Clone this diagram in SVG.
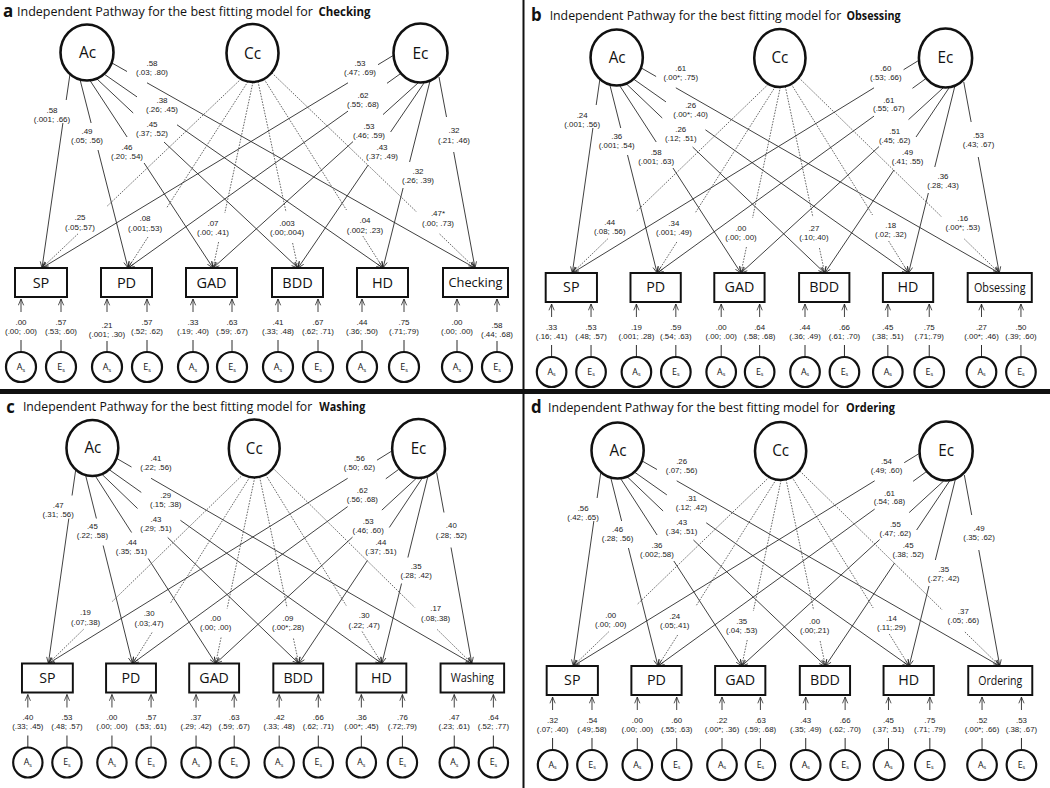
<svg xmlns="http://www.w3.org/2000/svg" width="1050" height="788" viewBox="0 0 1050 788">
<defs>
<marker id="ah" viewBox="0 0 10 10" refX="9.5" refY="5" markerWidth="7" markerHeight="7" markerUnits="userSpaceOnUse" orient="auto"><path d="M0.5,1.2L9.5,5L0.5,8.8" fill="none" stroke="#222" stroke-width="1.1"/></marker>
<style>
.ln{fill:none;stroke:#2a2a2a;stroke-width:0.9;marker-end:url(#ah)}
.dt{stroke:#555;stroke-dasharray:1.6 1.3}
.ra{fill:none;stroke:#2a2a2a;stroke-width:0.9;marker-end:url(#ah)}
.stm{fill:none;stroke:#2a2a2a;stroke-width:1}
.lat{fill:#fff;stroke:#111;stroke-width:2.6}
.box{fill:#fff;stroke:#111;stroke-width:2}
.res{fill:#fff;stroke:#111;stroke-width:2.2}
.lb{font-family:"Liberation Sans",Arial,sans-serif;font-size:8px;fill:#222;text-anchor:middle}
.nt{font-family:"Open Sans","Liberation Sans",sans-serif;fill:#111;text-anchor:middle}
.lt{font-size:15.5px}
.bt{font-size:14.5px}
.ot{font-size:12.5px}
.sl{font-size:9px}
.sb{font-size:5.5px}
.ttl{font-family:"Open Sans","Liberation Sans",sans-serif;font-size:12.5px;fill:#111}
.pl{font-family:"Open Sans","Liberation Sans",sans-serif;font-size:17px;font-weight:700;fill:#111}
.b{font-weight:700}
</style>
</defs>
<rect x="0" y="0" width="1050" height="788" fill="#fff"/>

<!-- ===================== PANEL A ===================== -->
<g id="panel-a">
<text class="pl" x="3" y="17">a</text>
<text class="ttl" x="17" y="16">Independent Pathway for the best fitting model for</text>
<text class="ttl b" x="318.5" y="16" textLength="52" lengthAdjust="spacingAndGlyphs">Checking</text>
<g id="a-connectors">
<path class="ln" d="M70,74L66.2,100M62.9,123L42,268"/>
<path class="ln" d="M80,79.5L91.1,123M98,150L128,268"/>
<path class="ln" d="M90,80.5L127.1,137M144.1,163L213,268"/>
<path class="ln" d="M97,79L133.2,113M164,142L298,268"/>
<path class="ln" d="M104,74L137,96.9M177,124.8L383,268"/>
<path class="ln" d="M112,63L127,71.5M147,82.8L475,268"/>
<path class="ln dt" d="M241,79L107,206.3M78,233.8L42,268"/>
<path class="ln dt" d="M248,81.5L166.6,208M148,237L128,268"/>
<path class="ln dt" d="M253,82L224.8,213M218.6,242L213,268"/>
<path class="ln dt" d="M258,81.5L286,212M292.6,243L298,268"/>
<path class="ln dt" d="M264,79L346.5,210M362.8,236L383,268"/>
<path class="ln dt" d="M272,73L416.7,212M439.6,234L475,268"/>
<path class="ln" d="M394,55L378,64.7M348,82.8L42,268"/>
<path class="ln" d="M400,74L387,83.3M348,111.1L128,268"/>
<path class="ln" d="M418,83L383,114.6M353,141.6L213,268"/>
<path class="ln" d="M424,83L390.6,132M368.2,165L298,268"/>
<path class="ln" d="M430,81L409.6,162M403.1,188L383,268"/>
<path class="ln" d="M439,77L446.5,117M453.7,152L475,268"/>
<path class="ra" d="M21,312V299"/><path class="ra" d="M61,312V299"/>
<path class="ra" d="M107,312V299"/><path class="ra" d="M147,312V299"/>
<path class="ra" d="M193,312V299"/><path class="ra" d="M232,312V299"/>
<path class="ra" d="M278,312V299"/><path class="ra" d="M318,312V299"/>
<path class="ra" d="M362,312V299"/><path class="ra" d="M404,312V299"/>
<path class="ra" d="M457,312V299"/><path class="ra" d="M497,312V299"/>
<path class="stm" d="M21,340V352M61,340V352M107,341V352M147,340V352M193,340V352M232,340V352M278,340V352M318,340V352M362,340V352M404,340V352M457,340V352M497,341V352"/>
</g>
<g id="a-labels">
<text class="lb" x="52" y="113">.58<tspan x="52" dy="9">(.001; .66)</tspan></text>
<text class="lb" x="87" y="134">.49<tspan x="87" dy="9">(.05; .56)</tspan></text>
<text class="lb" x="127" y="150">.46<tspan x="127" dy="9">(.20; .54)</tspan></text>
<text class="lb" x="152" y="127">.45<tspan x="152" dy="9">(.37; .52)</tspan></text>
<text class="lb" x="162" y="103">.38<tspan x="162" dy="9">(.26; .45)</tspan></text>
<text class="lb" x="152" y="66">.58<tspan x="152" dy="9">(.03; .80)</tspan></text>
<text class="lb" x="80" y="220">.25<tspan x="80" dy="9.5">(.05;.57)</tspan></text>
<text class="lb" x="145" y="221">.08<tspan x="145" dy="9.5">(.001;.53)</tspan></text>
<text class="lb" x="213" y="226">.07<tspan x="213" dy="9">(.00; .41)</tspan></text>
<text class="lb" x="287" y="226">.003<tspan x="287" dy="9">(.00;.004)</tspan></text>
<text class="lb" x="365" y="223">.04<tspan x="365" dy="9.5">(.002; .23)</tspan></text>
<text class="lb" x="438" y="216">.47*<tspan x="438" dy="9.5">(.00; .73)</tspan></text>
<text class="lb" x="360" y="66">.53<tspan x="360" dy="9">(.47; .69)</tspan></text>
<text class="lb" x="363" y="98">.62<tspan x="363" dy="8.5">(.55; .68)</tspan></text>
<text class="lb" x="369" y="129">.53<tspan x="369" dy="9">(.46; .59)</tspan></text>
<text class="lb" x="382" y="150">.43<tspan x="382" dy="9">(.37; .49)</tspan></text>
<text class="lb" x="418" y="174">.32<tspan x="418" dy="9">(.26; .39)</tspan></text>
<text class="lb" x="454" y="133">.32<tspan x="454" dy="9.5">(.21; .46)</tspan></text>
<text class="lb" x="21" y="325">.00<tspan x="21" dy="9">(.00; .00)</tspan></text>
<text class="lb" x="61" y="325">.57<tspan x="61" dy="9">(.53; .60)</tspan></text>
<text class="lb" x="107" y="328">.21<tspan x="107" dy="9">(.001; .30)</tspan></text>
<text class="lb" x="147" y="325">.57<tspan x="147" dy="9">(.52; .62)</tspan></text>
<text class="lb" x="193" y="325">.33<tspan x="193" dy="9">(.19; .40)</tspan></text>
<text class="lb" x="232" y="325">.63<tspan x="232" dy="9">(.59; .67)</tspan></text>
<text class="lb" x="278" y="325">.41<tspan x="278" dy="9">(.33; .48)</tspan></text>
<text class="lb" x="318" y="325">.67<tspan x="318" dy="9">(.62; .71)</tspan></text>
<text class="lb" x="362" y="325">.44<tspan x="362" dy="9">(.36; .50)</tspan></text>
<text class="lb" x="404" y="325">.75<tspan x="404" dy="9">(.71;.79)</tspan></text>
<text class="lb" x="457" y="325">.00<tspan x="457" dy="9">(.00; .00)</tspan></text>
<text class="lb" x="497" y="328">.58<tspan x="497" dy="9">(.44; .68)</tspan></text>
</g>
<g id="a-Ac"><ellipse class="lat" cx="87" cy="52.5" rx="26.5" ry="28"/><text class="nt lt" x="87.5" y="58">Ac</text></g>
<g id="a-Cc"><ellipse class="lat" cx="252.5" cy="53" rx="26" ry="29"/><text class="nt lt" x="252.5" y="58.5">Cc</text></g>
<g id="a-Ec"><ellipse class="lat" cx="420.5" cy="53" rx="27" ry="29.5"/><text class="nt lt" x="420.5" y="58.5">Ec</text></g>
<g id="a-SP"><rect class="box" x="15" y="268" width="52" height="29"/><text class="nt bt" x="41" y="287.5">SP</text></g>
<g id="a-PD"><rect class="box" x="101" y="268" width="51" height="29"/><text class="nt bt" x="126.5" y="287.5">PD</text></g>
<g id="a-GAD"><rect class="box" x="186" y="268" width="51" height="29"/><text class="nt bt" x="211.5" y="287.5">GAD</text></g>
<g id="a-BDD"><rect class="box" x="272" y="268" width="51" height="29"/><text class="nt bt" x="297.5" y="287.5">BDD</text></g>
<g id="a-HD"><rect class="box" x="357" y="268" width="51" height="29"/><text class="nt bt" x="382.5" y="287.5">HD</text></g>
<g id="a-Checking"><rect class="box" x="443" y="268" width="65" height="29"/><text class="nt ot" x="475.5" y="287" textLength="54" lengthAdjust="spacingAndGlyphs">Checking</text></g>
<g id="a-SP-As"><circle class="res" cx="21" cy="367" r="15"/><text class="nt sl" x="21" y="370">A<tspan class="sb" dy="1.5">s</tspan></text></g>
<g id="a-SP-Es"><circle class="res" cx="61" cy="367" r="15"/><text class="nt sl" x="61" y="370">E<tspan class="sb" dy="1.5">s</tspan></text></g>
<g id="a-PD-As"><circle class="res" cx="107" cy="367" r="15"/><text class="nt sl" x="107" y="370">A<tspan class="sb" dy="1.5">s</tspan></text></g>
<g id="a-PD-Es"><circle class="res" cx="147" cy="367" r="15"/><text class="nt sl" x="147" y="370">E<tspan class="sb" dy="1.5">s</tspan></text></g>
<g id="a-GAD-As"><circle class="res" cx="193" cy="367" r="15"/><text class="nt sl" x="193" y="370">A<tspan class="sb" dy="1.5">s</tspan></text></g>
<g id="a-GAD-Es"><circle class="res" cx="232" cy="367" r="15"/><text class="nt sl" x="232" y="370">E<tspan class="sb" dy="1.5">s</tspan></text></g>
<g id="a-BDD-As"><circle class="res" cx="278" cy="367" r="15"/><text class="nt sl" x="278" y="370">A<tspan class="sb" dy="1.5">s</tspan></text></g>
<g id="a-BDD-Es"><circle class="res" cx="318" cy="367" r="15"/><text class="nt sl" x="318" y="370">E<tspan class="sb" dy="1.5">s</tspan></text></g>
<g id="a-HD-As"><circle class="res" cx="362" cy="367" r="15"/><text class="nt sl" x="362" y="370">A<tspan class="sb" dy="1.5">s</tspan></text></g>
<g id="a-HD-Es"><circle class="res" cx="404" cy="367" r="15"/><text class="nt sl" x="404" y="370">E<tspan class="sb" dy="1.5">s</tspan></text></g>
<g id="a-Checking-As"><circle class="res" cx="457" cy="367" r="15"/><text class="nt sl" x="457" y="370">A<tspan class="sb" dy="1.5">s</tspan></text></g>
<g id="a-Checking-Es"><circle class="res" cx="497" cy="367" r="15"/><text class="nt sl" x="497" y="370">E<tspan class="sb" dy="1.5">s</tspan></text></g>
</g>

<!-- ===================== PANEL B ===================== -->
<g id="panel-b" transform="matrix(0.986,0,0,1,530.9,5)">
<text class="pl" x="0" y="16">b</text>
<text class="ttl" x="19" y="15">Independent Pathway for the best fitting model for</text>
<text class="ttl b" x="320" y="15" textLength="55" lengthAdjust="spacingAndGlyphs">Obsessing</text>
<g id="b-connectors">
<path class="ln" d="M70,74L66.2,100M62.9,123L42,268"/>
<path class="ln" d="M80,79.5L91.1,123M98,150L128,268"/>
<path class="ln" d="M90,80.5L127.1,137M144.1,163L213,268"/>
<path class="ln" d="M97,79L133.2,113M164,142L298,268"/>
<path class="ln" d="M104,74L137,96.9M177,124.8L383,268"/>
<path class="ln" d="M112,63L127,71.5M147,82.8L475,268"/>
<path class="ln dt" d="M241,79L107,206.3M78,233.8L42,268"/>
<path class="ln dt" d="M248,81.5L166.6,208M148,237L128,268"/>
<path class="ln dt" d="M253,82L224.8,213M218.6,242L213,268"/>
<path class="ln dt" d="M258,81.5L286,212M292.6,243L298,268"/>
<path class="ln dt" d="M264,79L346.5,210M362.8,236L383,268"/>
<path class="ln dt" d="M272,73L416.7,212M439.6,234L475,268"/>
<path class="ln" d="M394,55L378,64.7M348,82.8L42,268"/>
<path class="ln" d="M400,74L387,83.3M348,111.1L128,268"/>
<path class="ln" d="M418,83L383,114.6M353,141.6L213,268"/>
<path class="ln" d="M424,83L390.6,132M368.2,165L298,268"/>
<path class="ln" d="M430,81L409.6,162M403.1,188L383,268"/>
<path class="ln" d="M439,77L446.5,117M453.7,152L475,268"/>
<path class="ra" d="M21,312V299"/><path class="ra" d="M61,312V299"/>
<path class="ra" d="M107,312V299"/><path class="ra" d="M147,312V299"/>
<path class="ra" d="M193,312V299"/><path class="ra" d="M232,312V299"/>
<path class="ra" d="M278,312V299"/><path class="ra" d="M318,312V299"/>
<path class="ra" d="M362,312V299"/><path class="ra" d="M404,312V299"/>
<path class="ra" d="M457,312V299"/><path class="ra" d="M497,312V299"/>
<path class="stm" d="M21,340V352M61,340V352M107,340V352M147,340V352M193,340V352M232,340V352M278,340V352M318,340V352M362,340V352M404,340V352M457,340V352M497,340V352"/>
</g>
<g id="b-labels">
<text class="lb" x="52" y="113">.24<tspan x="52" dy="9">(.001; .56)</tspan></text>
<text class="lb" x="87" y="134">.36<tspan x="87" dy="9">(.001; .54)</tspan></text>
<text class="lb" x="127" y="150">.58<tspan x="127" dy="9">(.001; .63)</tspan></text>
<text class="lb" x="152" y="127">.26<tspan x="152" dy="9">(.12; .51)</tspan></text>
<text class="lb" x="162" y="103">.26<tspan x="162" dy="9">(.00*; .40)</tspan></text>
<text class="lb" x="152" y="66">.61<tspan x="152" dy="9">(.00*; .75)</tspan></text>
<text class="lb" x="80" y="220">.44<tspan x="80" dy="9.5">(.08; .56)</tspan></text>
<text class="lb" x="145" y="221">.34<tspan x="145" dy="9.5">(.001; .49)</tspan></text>
<text class="lb" x="213" y="226">.00<tspan x="213" dy="9">(.00; .00)</tspan></text>
<text class="lb" x="287" y="226">.27<tspan x="287" dy="9">(.10;.40)</tspan></text>
<text class="lb" x="365" y="223">.18<tspan x="365" dy="9.5">(.02; .32)</tspan></text>
<text class="lb" x="438" y="216">.16<tspan x="438" dy="9.5">(.00*; .53)</tspan></text>
<text class="lb" x="360" y="66">.60<tspan x="360" dy="9">(.53; .66)</tspan></text>
<text class="lb" x="363" y="98">.61<tspan x="363" dy="8.5">(.55; .67)</tspan></text>
<text class="lb" x="369" y="129">.51<tspan x="369" dy="9">(.45; .62)</tspan></text>
<text class="lb" x="382" y="150">.49<tspan x="382" dy="9">(.41; .55)</tspan></text>
<text class="lb" x="418" y="174">.36<tspan x="418" dy="9">(.28; .43)</tspan></text>
<text class="lb" x="454" y="133">.53<tspan x="454" dy="9.5">(.43; .67)</tspan></text>
<text class="lb" x="21" y="325">.33<tspan x="21" dy="9">(.16; .41)</tspan></text>
<text class="lb" x="61" y="325">.53<tspan x="61" dy="9">(.48; .57)</tspan></text>
<text class="lb" x="107" y="325">.19<tspan x="107" dy="9">(.001; .28)</tspan></text>
<text class="lb" x="147" y="325">.59<tspan x="147" dy="9">(.54; .63)</tspan></text>
<text class="lb" x="193" y="325">.00<tspan x="193" dy="9">(.00; .00)</tspan></text>
<text class="lb" x="232" y="325">.64<tspan x="232" dy="9">(.58; .68)</tspan></text>
<text class="lb" x="278" y="325">.44<tspan x="278" dy="9">(.36; .49)</tspan></text>
<text class="lb" x="318" y="325">.66<tspan x="318" dy="9">(.61; .70)</tspan></text>
<text class="lb" x="362" y="325">.45<tspan x="362" dy="9">(.38; .51)</tspan></text>
<text class="lb" x="404" y="325">.75<tspan x="404" dy="9">(.71;.79)</tspan></text>
<text class="lb" x="457" y="325">.27<tspan x="457" dy="9">(.00*; .46)</tspan></text>
<text class="lb" x="497" y="325">.50<tspan x="497" dy="9">(.39; .60)</tspan></text>
</g>
<g id="b-Ac"><ellipse class="lat" cx="87" cy="52.5" rx="26.5" ry="28"/><text class="nt lt" x="87.5" y="58">Ac</text></g>
<g id="b-Cc"><ellipse class="lat" cx="252.5" cy="53" rx="26" ry="29"/><text class="nt lt" x="252.5" y="58.5">Cc</text></g>
<g id="b-Ec"><ellipse class="lat" cx="420.5" cy="53" rx="27" ry="29.5"/><text class="nt lt" x="420.5" y="58.5">Ec</text></g>
<g id="b-SP"><rect class="box" x="15" y="268" width="52" height="29"/><text class="nt bt" x="41" y="287.5">SP</text></g>
<g id="b-PD"><rect class="box" x="101" y="268" width="51" height="29"/><text class="nt bt" x="126.5" y="287.5">PD</text></g>
<g id="b-GAD"><rect class="box" x="186" y="268" width="51" height="29"/><text class="nt bt" x="211.5" y="287.5">GAD</text></g>
<g id="b-BDD"><rect class="box" x="272" y="268" width="51" height="29"/><text class="nt bt" x="297.5" y="287.5">BDD</text></g>
<g id="b-HD"><rect class="box" x="357" y="268" width="51" height="29"/><text class="nt bt" x="382.5" y="287.5">HD</text></g>
<g id="b-Obsessing"><rect class="box" x="443" y="268" width="65" height="29"/><text class="nt ot" x="475.5" y="287" textLength="52.4" lengthAdjust="spacingAndGlyphs">Obsessing</text></g>
<g id="b-SP-As"><circle class="res" cx="21" cy="367" r="15"/><text class="nt sl" x="21" y="370">A<tspan class="sb" dy="1.5">s</tspan></text></g>
<g id="b-SP-Es"><circle class="res" cx="61" cy="367" r="15"/><text class="nt sl" x="61" y="370">E<tspan class="sb" dy="1.5">s</tspan></text></g>
<g id="b-PD-As"><circle class="res" cx="107" cy="367" r="15"/><text class="nt sl" x="107" y="370">A<tspan class="sb" dy="1.5">s</tspan></text></g>
<g id="b-PD-Es"><circle class="res" cx="147" cy="367" r="15"/><text class="nt sl" x="147" y="370">E<tspan class="sb" dy="1.5">s</tspan></text></g>
<g id="b-GAD-As"><circle class="res" cx="193" cy="367" r="15"/><text class="nt sl" x="193" y="370">A<tspan class="sb" dy="1.5">s</tspan></text></g>
<g id="b-GAD-Es"><circle class="res" cx="232" cy="367" r="15"/><text class="nt sl" x="232" y="370">E<tspan class="sb" dy="1.5">s</tspan></text></g>
<g id="b-BDD-As"><circle class="res" cx="278" cy="367" r="15"/><text class="nt sl" x="278" y="370">A<tspan class="sb" dy="1.5">s</tspan></text></g>
<g id="b-BDD-Es"><circle class="res" cx="318" cy="367" r="15"/><text class="nt sl" x="318" y="370">E<tspan class="sb" dy="1.5">s</tspan></text></g>
<g id="b-HD-As"><circle class="res" cx="362" cy="367" r="15"/><text class="nt sl" x="362" y="370">A<tspan class="sb" dy="1.5">s</tspan></text></g>
<g id="b-HD-Es"><circle class="res" cx="404" cy="367" r="15"/><text class="nt sl" x="404" y="370">E<tspan class="sb" dy="1.5">s</tspan></text></g>
<g id="b-Obsessing-As"><circle class="res" cx="457" cy="367" r="15"/><text class="nt sl" x="457" y="370">A<tspan class="sb" dy="1.5">s</tspan></text></g>
<g id="b-Obsessing-Es"><circle class="res" cx="497" cy="367" r="15"/><text class="nt sl" x="497" y="370">E<tspan class="sb" dy="1.5">s</tspan></text></g>
</g>

<!-- ===================== PANEL C ===================== -->
<g id="panel-c" transform="matrix(0.978,0,0,1,7.3,395.5)">
<text class="pl" x="-1" y="17">c</text>
<text class="ttl" x="16" y="16">Independent Pathway for the best fitting model for</text>
<text class="ttl b" x="319" y="16" textLength="47" lengthAdjust="spacingAndGlyphs">Washing</text>
<g id="c-connectors">
<path class="ln" d="M70,74L66.2,100M62.9,123L42,268"/>
<path class="ln" d="M80,79.5L91.1,123M98,150L128,268"/>
<path class="ln" d="M90,80.5L127.1,137M144.1,163L213,268"/>
<path class="ln" d="M97,79L133.2,113M164,142L298,268"/>
<path class="ln" d="M104,74L137,96.9M177,124.8L383,268"/>
<path class="ln" d="M112,63L127,71.5M147,82.8L475,268"/>
<path class="ln dt" d="M241,79L107,206.3M78,233.8L42,268"/>
<path class="ln dt" d="M248,81.5L166.6,208M148,237L128,268"/>
<path class="ln dt" d="M253,82L224.8,213M218.6,242L213,268"/>
<path class="ln dt" d="M258,81.5L286,212M292.6,243L298,268"/>
<path class="ln dt" d="M264,79L346.5,210M362.8,236L383,268"/>
<path class="ln dt" d="M272,73L416.7,212M439.6,234L475,268"/>
<path class="ln" d="M394,55L378,64.7M348,82.8L42,268"/>
<path class="ln" d="M400,74L387,83.3M348,111.1L128,268"/>
<path class="ln" d="M418,83L383,114.6M353,141.6L213,268"/>
<path class="ln" d="M424,83L390.6,132M368.2,165L298,268"/>
<path class="ln" d="M430,81L409.6,162M403.1,188L383,268"/>
<path class="ln" d="M439,77L446.5,117M453.7,152L475,268"/>
<path class="ra" d="M21,312V299"/><path class="ra" d="M61,312V299"/>
<path class="ra" d="M107,312V299"/><path class="ra" d="M147,312V299"/>
<path class="ra" d="M193,312V299"/><path class="ra" d="M232,312V299"/>
<path class="ra" d="M278,312V299"/><path class="ra" d="M318,312V299"/>
<path class="ra" d="M362,312V299"/><path class="ra" d="M404,312V299"/>
<path class="ra" d="M457,312V299"/><path class="ra" d="M497,312V299"/>
<path class="stm" d="M21,340V352M61,340V352M107,340V352M147,340V352M193,340V352M232,340V352M278,340V352M318,340V352M362,340V352M404,340V352M457,340V352M497,340V352"/>
</g>
<g id="c-labels">
<text class="lb" x="52" y="113">.47<tspan x="52" dy="9">(.31; .56)</tspan></text>
<text class="lb" x="87" y="134">.45<tspan x="87" dy="9">(.22; .58)</tspan></text>
<text class="lb" x="127" y="150">.44<tspan x="127" dy="9">(.35; .51)</tspan></text>
<text class="lb" x="152" y="127">.43<tspan x="152" dy="9">(.29; .51)</tspan></text>
<text class="lb" x="162" y="103">.29<tspan x="162" dy="9">(.15; .38)</tspan></text>
<text class="lb" x="152" y="66">.41<tspan x="152" dy="9">(.22; .56)</tspan></text>
<text class="lb" x="80" y="220">.19<tspan x="80" dy="9.5">(.07;.38)</tspan></text>
<text class="lb" x="145" y="221">.30<tspan x="145" dy="9.5">(.03;.47)</tspan></text>
<text class="lb" x="213" y="226">.00<tspan x="213" dy="9">(.00; .00)</tspan></text>
<text class="lb" x="287" y="226">.09<tspan x="287" dy="9">(.00*;.28)</tspan></text>
<text class="lb" x="365" y="223">.30<tspan x="365" dy="9.5">(.22; .47)</tspan></text>
<text class="lb" x="438" y="216">.17<tspan x="438" dy="9.5">(.08;.38)</tspan></text>
<text class="lb" x="360" y="66">.56<tspan x="360" dy="9">(.50; .62)</tspan></text>
<text class="lb" x="363" y="98">.62<tspan x="363" dy="8.5">(.56; .68)</tspan></text>
<text class="lb" x="369" y="129">.53<tspan x="369" dy="9">(.46; .60)</tspan></text>
<text class="lb" x="382" y="150">.44<tspan x="382" dy="9">(.37; .51)</tspan></text>
<text class="lb" x="418" y="174">.35<tspan x="418" dy="9">(.28; .42)</tspan></text>
<text class="lb" x="454" y="133">.40<tspan x="454" dy="9.5">(.28; .52)</tspan></text>
<text class="lb" x="21" y="325">.40<tspan x="21" dy="9">(.33; .45)</tspan></text>
<text class="lb" x="61" y="325">.53<tspan x="61" dy="9">(.48; .57)</tspan></text>
<text class="lb" x="107" y="325">.00<tspan x="107" dy="9">(.00; .00)</tspan></text>
<text class="lb" x="147" y="325">.57<tspan x="147" dy="9">(.53; .61)</tspan></text>
<text class="lb" x="193" y="325">.37<tspan x="193" dy="9">(.29; .42)</tspan></text>
<text class="lb" x="232" y="325">.63<tspan x="232" dy="9">(.59; .67)</tspan></text>
<text class="lb" x="278" y="325">.42<tspan x="278" dy="9">(.33; .48)</tspan></text>
<text class="lb" x="318" y="325">.66<tspan x="318" dy="9">(.62; .71)</tspan></text>
<text class="lb" x="362" y="325">.36<tspan x="362" dy="9">(.00*; .45)</tspan></text>
<text class="lb" x="404" y="325">.76<tspan x="404" dy="9">(.72;.79)</tspan></text>
<text class="lb" x="457" y="325">.47<tspan x="457" dy="9">(.23; .61)</tspan></text>
<text class="lb" x="497" y="325">.64<tspan x="497" dy="9">(.52; .77)</tspan></text>
</g>
<g id="c-Ac"><ellipse class="lat" cx="87" cy="52.5" rx="26.5" ry="28"/><text class="nt lt" x="87.5" y="58">Ac</text></g>
<g id="c-Cc"><ellipse class="lat" cx="252.5" cy="53" rx="26" ry="29"/><text class="nt lt" x="252.5" y="58.5">Cc</text></g>
<g id="c-Ec"><ellipse class="lat" cx="420.5" cy="53" rx="27" ry="29.5"/><text class="nt lt" x="420.5" y="58.5">Ec</text></g>
<g id="c-SP"><rect class="box" x="15" y="268" width="52" height="29"/><text class="nt bt" x="41" y="287.5">SP</text></g>
<g id="c-PD"><rect class="box" x="101" y="268" width="51" height="29"/><text class="nt bt" x="126.5" y="287.5">PD</text></g>
<g id="c-GAD"><rect class="box" x="186" y="268" width="51" height="29"/><text class="nt bt" x="211.5" y="287.5">GAD</text></g>
<g id="c-BDD"><rect class="box" x="272" y="268" width="51" height="29"/><text class="nt bt" x="297.5" y="287.5">BDD</text></g>
<g id="c-HD"><rect class="box" x="357" y="268" width="51" height="29"/><text class="nt bt" x="382.5" y="287.5">HD</text></g>
<g id="c-Washing"><rect class="box" x="443" y="268" width="65" height="29"/><text class="nt ot" x="475.5" y="287" textLength="44.3" lengthAdjust="spacingAndGlyphs">Washing</text></g>
<g id="c-SP-As"><circle class="res" cx="21" cy="367" r="15"/><text class="nt sl" x="21" y="370">A<tspan class="sb" dy="1.5">s</tspan></text></g>
<g id="c-SP-Es"><circle class="res" cx="61" cy="367" r="15"/><text class="nt sl" x="61" y="370">E<tspan class="sb" dy="1.5">s</tspan></text></g>
<g id="c-PD-As"><circle class="res" cx="107" cy="367" r="15"/><text class="nt sl" x="107" y="370">A<tspan class="sb" dy="1.5">s</tspan></text></g>
<g id="c-PD-Es"><circle class="res" cx="147" cy="367" r="15"/><text class="nt sl" x="147" y="370">E<tspan class="sb" dy="1.5">s</tspan></text></g>
<g id="c-GAD-As"><circle class="res" cx="193" cy="367" r="15"/><text class="nt sl" x="193" y="370">A<tspan class="sb" dy="1.5">s</tspan></text></g>
<g id="c-GAD-Es"><circle class="res" cx="232" cy="367" r="15"/><text class="nt sl" x="232" y="370">E<tspan class="sb" dy="1.5">s</tspan></text></g>
<g id="c-BDD-As"><circle class="res" cx="278" cy="367" r="15"/><text class="nt sl" x="278" y="370">A<tspan class="sb" dy="1.5">s</tspan></text></g>
<g id="c-BDD-Es"><circle class="res" cx="318" cy="367" r="15"/><text class="nt sl" x="318" y="370">E<tspan class="sb" dy="1.5">s</tspan></text></g>
<g id="c-HD-As"><circle class="res" cx="362" cy="367" r="15"/><text class="nt sl" x="362" y="370">A<tspan class="sb" dy="1.5">s</tspan></text></g>
<g id="c-HD-Es"><circle class="res" cx="404" cy="367" r="15"/><text class="nt sl" x="404" y="370">E<tspan class="sb" dy="1.5">s</tspan></text></g>
<g id="c-Washing-As"><circle class="res" cx="457" cy="367" r="15"/><text class="nt sl" x="457" y="370">A<tspan class="sb" dy="1.5">s</tspan></text></g>
<g id="c-Washing-Es"><circle class="res" cx="497" cy="367" r="15"/><text class="nt sl" x="497" y="370">E<tspan class="sb" dy="1.5">s</tspan></text></g>
</g>

<!-- ===================== PANEL D ===================== -->
<g id="panel-d" transform="matrix(0.985,0,0,1,531.9,398)">
<text class="pl" x="-1" y="15">d</text>
<text class="ttl" x="16.3" y="14">Independent Pathway for the best fitting model for</text>
<text class="ttl b" x="319" y="14" textLength="49.6" lengthAdjust="spacingAndGlyphs">Ordering</text>
<g id="d-connectors">
<path class="ln" d="M70,74L66.2,100M62.9,123L42,268"/>
<path class="ln" d="M80,79.5L91.1,123M98,150L128,268"/>
<path class="ln" d="M90,80.5L127.1,137M144.1,163L213,268"/>
<path class="ln" d="M97,79L133.2,113M164,142L298,268"/>
<path class="ln" d="M104,74L137,96.9M177,124.8L383,268"/>
<path class="ln" d="M112,63L127,71.5M147,82.8L475,268"/>
<path class="ln dt" d="M241,79L107,206.3M78,233.8L42,268"/>
<path class="ln dt" d="M248,81.5L166.6,208M148,237L128,268"/>
<path class="ln dt" d="M253,82L224.8,213M218.6,242L213,268"/>
<path class="ln dt" d="M258,81.5L286,212M292.6,243L298,268"/>
<path class="ln dt" d="M264,79L346.5,210M362.8,236L383,268"/>
<path class="ln dt" d="M272,73L416.7,212M439.6,234L475,268"/>
<path class="ln" d="M394,55L378,64.7M348,82.8L42,268"/>
<path class="ln" d="M400,74L387,83.3M348,111.1L128,268"/>
<path class="ln" d="M418,83L383,114.6M353,141.6L213,268"/>
<path class="ln" d="M424,83L390.6,132M368.2,165L298,268"/>
<path class="ln" d="M430,81L409.6,162M403.1,188L383,268"/>
<path class="ln" d="M439,77L446.5,117M453.7,152L475,268"/>
<path class="ra" d="M21,312V299"/><path class="ra" d="M61,312V299"/>
<path class="ra" d="M107,312V299"/><path class="ra" d="M147,312V299"/>
<path class="ra" d="M193,312V299"/><path class="ra" d="M232,312V299"/>
<path class="ra" d="M278,312V299"/><path class="ra" d="M318,312V299"/>
<path class="ra" d="M362,312V299"/><path class="ra" d="M404,312V299"/>
<path class="ra" d="M457,312V299"/><path class="ra" d="M497,312V299"/>
<path class="stm" d="M21,340V352M61,340V352M107,340V352M147,340V352M193,340V352M232,340V352M278,340V352M318,340V352M362,340V352M404,340V352M457,340V352M497,340V352"/>
</g>
<g id="d-labels">
<text class="lb" x="52" y="113">.56<tspan x="52" dy="9">(.42; .65)</tspan></text>
<text class="lb" x="87" y="134">.46<tspan x="87" dy="9">(.28; .56)</tspan></text>
<text class="lb" x="127" y="150">.36<tspan x="127" dy="9">(.002;.58)</tspan></text>
<text class="lb" x="152" y="127">.43<tspan x="152" dy="9">(.34; .51)</tspan></text>
<text class="lb" x="162" y="103">.31<tspan x="162" dy="9">(.12; .42)</tspan></text>
<text class="lb" x="152" y="66">.26<tspan x="152" dy="9">(.07; .56)</tspan></text>
<text class="lb" x="80" y="220">.00<tspan x="80" dy="9.5">(.00; .00)</tspan></text>
<text class="lb" x="145" y="221">.24<tspan x="145" dy="9.5">(.05;.41)</tspan></text>
<text class="lb" x="213" y="226">.35<tspan x="213" dy="9">(.04; .53)</tspan></text>
<text class="lb" x="287" y="226">.00<tspan x="287" dy="9">(.00;.21)</tspan></text>
<text class="lb" x="365" y="223">.14<tspan x="365" dy="9.5">(.11;.29)</tspan></text>
<text class="lb" x="438" y="216">.37<tspan x="438" dy="9.5">(.05; .66)</tspan></text>
<text class="lb" x="360" y="66">.54<tspan x="360" dy="9">(.49; .60)</tspan></text>
<text class="lb" x="363" y="98">.61<tspan x="363" dy="8.5">(.54; .68)</tspan></text>
<text class="lb" x="369" y="129">.55<tspan x="369" dy="9">(.47; .62)</tspan></text>
<text class="lb" x="382" y="150">.45<tspan x="382" dy="9">(.38; .52)</tspan></text>
<text class="lb" x="418" y="174">.35<tspan x="418" dy="9">(.27; .42)</tspan></text>
<text class="lb" x="454" y="133">.49<tspan x="454" dy="9.5">(.35; .62)</tspan></text>
<text class="lb" x="21" y="325">.32<tspan x="21" dy="9">(.07; .40)</tspan></text>
<text class="lb" x="61" y="325">.54<tspan x="61" dy="9">(.49;.58)</tspan></text>
<text class="lb" x="107" y="325">.00<tspan x="107" dy="9">(.00; .00)</tspan></text>
<text class="lb" x="147" y="325">.60<tspan x="147" dy="9">(.55; .63)</tspan></text>
<text class="lb" x="193" y="325">.22<tspan x="193" dy="9">(.00*; .36)</tspan></text>
<text class="lb" x="232" y="325">.63<tspan x="232" dy="9">(.59; .68)</tspan></text>
<text class="lb" x="278" y="325">.43<tspan x="278" dy="9">(.35; .49)</tspan></text>
<text class="lb" x="318" y="325">.66<tspan x="318" dy="9">(.62; .70)</tspan></text>
<text class="lb" x="362" y="325">.45<tspan x="362" dy="9">(.37; .51)</tspan></text>
<text class="lb" x="404" y="325">.75<tspan x="404" dy="9">(.71; .79)</tspan></text>
<text class="lb" x="457" y="325">.52<tspan x="457" dy="9">(.00*; .66)</tspan></text>
<text class="lb" x="497" y="325">.53<tspan x="497" dy="9">(.38; .67)</tspan></text>
</g>
<g id="d-Ac"><ellipse class="lat" cx="87" cy="52.5" rx="26.5" ry="28"/><text class="nt lt" x="87.5" y="58">Ac</text></g>
<g id="d-Cc"><ellipse class="lat" cx="252.5" cy="53" rx="26" ry="29"/><text class="nt lt" x="252.5" y="58.5">Cc</text></g>
<g id="d-Ec"><ellipse class="lat" cx="420.5" cy="53" rx="27" ry="29.5"/><text class="nt lt" x="420.5" y="58.5">Ec</text></g>
<g id="d-SP"><rect class="box" x="15" y="268" width="52" height="29"/><text class="nt bt" x="41" y="287.5">SP</text></g>
<g id="d-PD"><rect class="box" x="101" y="268" width="51" height="29"/><text class="nt bt" x="126.5" y="287.5">PD</text></g>
<g id="d-GAD"><rect class="box" x="186" y="268" width="51" height="29"/><text class="nt bt" x="211.5" y="287.5">GAD</text></g>
<g id="d-BDD"><rect class="box" x="272" y="268" width="51" height="29"/><text class="nt bt" x="297.5" y="287.5">BDD</text></g>
<g id="d-HD"><rect class="box" x="357" y="268" width="51" height="29"/><text class="nt bt" x="382.5" y="287.5">HD</text></g>
<g id="d-Ordering"><rect class="box" x="443" y="268" width="65" height="29"/><text class="nt ot" x="475.5" y="287" textLength="44.7" lengthAdjust="spacingAndGlyphs">Ordering</text></g>
<g id="d-SP-As"><circle class="res" cx="21" cy="367" r="15"/><text class="nt sl" x="21" y="370">A<tspan class="sb" dy="1.5">s</tspan></text></g>
<g id="d-SP-Es"><circle class="res" cx="61" cy="367" r="15"/><text class="nt sl" x="61" y="370">E<tspan class="sb" dy="1.5">s</tspan></text></g>
<g id="d-PD-As"><circle class="res" cx="107" cy="367" r="15"/><text class="nt sl" x="107" y="370">A<tspan class="sb" dy="1.5">s</tspan></text></g>
<g id="d-PD-Es"><circle class="res" cx="147" cy="367" r="15"/><text class="nt sl" x="147" y="370">E<tspan class="sb" dy="1.5">s</tspan></text></g>
<g id="d-GAD-As"><circle class="res" cx="193" cy="367" r="15"/><text class="nt sl" x="193" y="370">A<tspan class="sb" dy="1.5">s</tspan></text></g>
<g id="d-GAD-Es"><circle class="res" cx="232" cy="367" r="15"/><text class="nt sl" x="232" y="370">E<tspan class="sb" dy="1.5">s</tspan></text></g>
<g id="d-BDD-As"><circle class="res" cx="278" cy="367" r="15"/><text class="nt sl" x="278" y="370">A<tspan class="sb" dy="1.5">s</tspan></text></g>
<g id="d-BDD-Es"><circle class="res" cx="318" cy="367" r="15"/><text class="nt sl" x="318" y="370">E<tspan class="sb" dy="1.5">s</tspan></text></g>
<g id="d-HD-As"><circle class="res" cx="362" cy="367" r="15"/><text class="nt sl" x="362" y="370">A<tspan class="sb" dy="1.5">s</tspan></text></g>
<g id="d-HD-Es"><circle class="res" cx="404" cy="367" r="15"/><text class="nt sl" x="404" y="370">E<tspan class="sb" dy="1.5">s</tspan></text></g>
<g id="d-Ordering-As"><circle class="res" cx="457" cy="367" r="15"/><text class="nt sl" x="457" y="370">A<tspan class="sb" dy="1.5">s</tspan></text></g>
<g id="d-Ordering-Es"><circle class="res" cx="497" cy="367" r="15"/><text class="nt sl" x="497" y="370">E<tspan class="sb" dy="1.5">s</tspan></text></g>
</g>

<!-- separators -->
<g id="separators">
<rect x="0" y="389" width="1050" height="5" fill="#111"/>
<line x1="523.5" y1="0" x2="523.5" y2="788" stroke="#111" stroke-width="2"/>
</g>
</svg>
